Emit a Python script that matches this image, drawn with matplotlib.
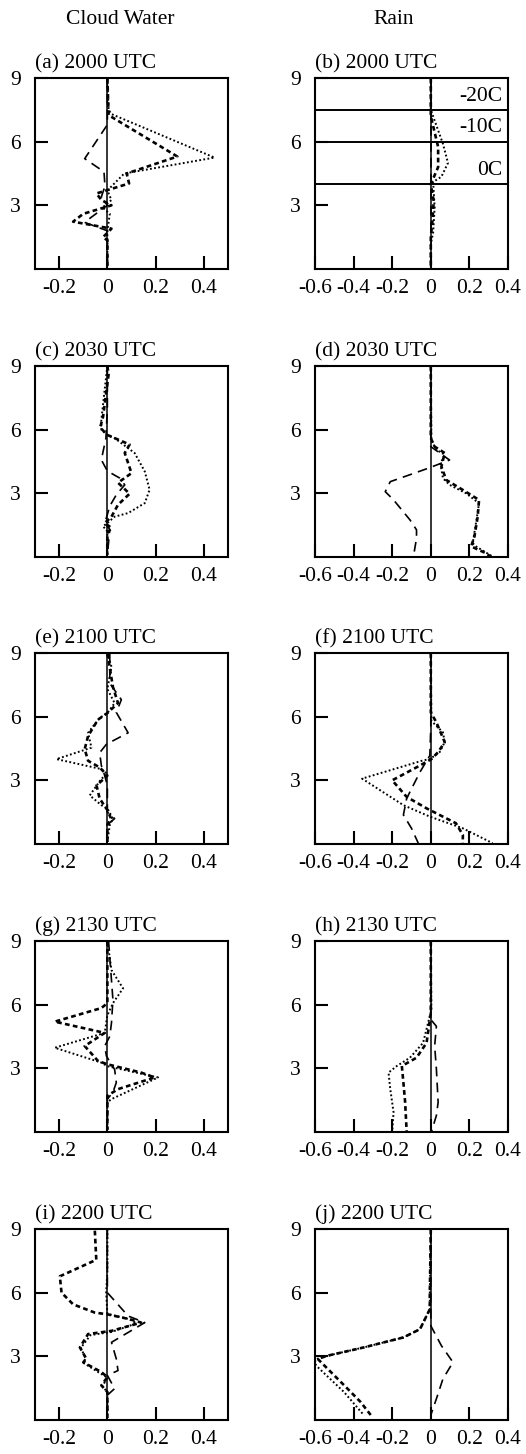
import matplotlib
matplotlib.use("Agg")
import matplotlib.pyplot as plt

plt.rcParams['font.family'] = ['Liberation Serif', 'DejaVu Serif']
plt.rcParams['font.size'] = 15.5
plt.rcParams['axes.unicode_minus'] = False
plt.rcParams['lines.scale_dashes'] = False

# vertical profiles (x = value, z = height in km), three runs per panel
a_long_x = [0, 0, -0.094, -0.014, -0.01, -0.025, 0, -0.095, 0, 0, 0]
a_long_z = [9, 6.8, 5.2, 4.58, 3.9, 3.4, 3.0, 2.2, 1.8, 1.2, 0.1]
a_dot_x = [0, 0.005, 0.017, 0.444, 0.07, 0, 0.017, -0.02, 0.01, 0, 0]
a_dot_z = [9, 7.5, 7.3, 5.25, 4.5, 3.7, 3.25, 2.9, 2.6, 1.8, 0.1]
a_short_x = [0, 0.005, 0.29, 0.08, 0.09, -0.045, -0.025, 0.017, -0.1, -0.142, 0.017, -0.018, 0, 0]
a_short_z = [9, 7.25, 5.3, 4.5, 4.03, 3.56, 3.25, 3.0, 2.6, 2.23, 1.9, 1.5, 1.35, 0.1]

b_long_x = [0, 0]
b_long_z = [9, 0.1]
b_dot_x = [0, 0, 0.063, 0.089, 0.055, 0.012, 0.02, 0.012, 0, 0]
b_dot_z = [9, 7.5, 5.9, 5.0, 4.35, 4.1, 2.9, 1.7, 1.2, 0.1]
b_short_x = [0, 0, 0.038, 0.038, 0, 0.015, 0.009, 0, 0]
b_short_z = [9, 7.2, 5.75, 4.8, 4.0, 3.2, 2.3, 1.5, 0.1]

c_long_x = [0, 0, -0.006, -0.025, 0, 0.051, 0.072, 0.037, 0.01, 0, -0.011, 0.01, 0]
c_long_z = [9, 7, 5.6, 4.58, 4.05, 3.72, 3.4, 2.93, 2.4, 2.0, 1.6, 1.3, 0.1]
c_dot_x = [0, -0.011, -0.025, -0.025, 0, 0.03, 0.113, 0.155, 0.175, 0.155, 0.086, 0.03, 0, -0.018, 0, 0]
c_dot_z = [9, 7.9, 6.46, 6.0, 5.75, 5.6, 4.9, 4.03, 3.17, 2.54, 2.07, 1.9, 1.6, 1.45, 1.2, 0.1]
c_short_x = [0, 0.005, -0.018, -0.03, 0, 0.092, 0.072, 0.1, 0.044, 0.092, 0.044, 0.017, -0.011, 0.017, 0, 0]
c_short_z = [9, 8.6, 6.6, 6.1, 5.75, 5.3, 4.9, 3.95, 3.5, 2.98, 2.46, 1.9, 1.6, 1.37, 1.13, 0.1]

d_long_x = [0, 0, 0.097, -0.014, -0.21, -0.236, -0.193, -0.108, -0.074, -0.074, -0.09]
d_long_z = [9, 5.2, 4.57, 4.18, 3.55, 3.08, 2.69, 1.75, 1.28, 0.88, 0.02]
d_dot_x = [0, 0.003, 0.029, 0.072, 0.05, 0.063, 0.097, 0.183, 0.25, 0.234, 0.217, 0.234, 0.32]
d_dot_z = [9, 5.5, 5.05, 4.82, 4.4, 3.71, 3.4, 3.0, 2.53, 1.6, 0.65, 0.5, 0.02]
d_short_x = [0, 0, 0.02, 0.072, 0.055, 0.08, 0.166, 0.25, 0.243, 0.226, 0.209, 0.285, 0.31]
d_short_z = [9, 5.6, 5.2, 4.9, 4.26, 3.63, 3.16, 2.69, 1.9, 0.96, 0.5, 0.18, 0.02]

e_long_x = [0.01, 0.01, 0.058, 0.037, 0.086, -0.004, -0.032, -0.025, -0.011, 0, 0, 0.03, 0, 0]
e_long_z = [9, 7.57, 6.8, 6.2, 5.24, 4.7, 4.3, 3.7, 3.22, 2.76, 1.5, 1.2, 0.9, 0.1]
e_dot_x = [0, 0.017, 0, 0.03, 0, -0.032, -0.08, -0.066, -0.211, -0.025, 0, -0.025, -0.073, -0.025, 0, 0.023, 0.01, 0]
e_dot_z = [9, 8.35, 7.3, 6.64, 6.17, 5.94, 5.24, 4.54, 4.0, 3.53, 3.3, 3.07, 2.29, 1.83, 1.67, 1.2, 0.9, 0.1]
e_short_x = [0, 0.023, 0.044, 0, -0.039, -0.08, -0.094, -0.08, -0.032, 0, -0.045, -0.032, 0, 0.015, 0, 0]
e_short_z = [9, 7.4, 6.64, 6.17, 5.86, 5.09, 4.47, 3.92, 3.61, 3.22, 2.76, 2.14, 1.6, 1.2, 0.9, 0.1]

f_long_x = [0, 0, -0.005, -0.056, -0.125, -0.142, -0.1, -0.065]
f_long_z = [9, 5.5, 4.17, 3.39, 2.15, 1.37, 0.74, 0.04]
f_dot_x = [0, 0.003, 0.063, 0.072, 0.046, -0.005, -0.04, -0.356, -0.142, -0.005, 0.166, 0.32]
f_dot_z = [9, 5.8, 5.26, 4.8, 4.33, 4.0, 3.94, 3.08, 1.83, 1.29, 0.74, 0.04]
f_short_x = [0, 0, 0.029, 0.072, 0.038, 0.003, -0.056, -0.2, -0.125, -0.022, 0.13, 0.166, 0.166]
f_short_z = [9, 6.2, 5.73, 4.8, 4.33, 4.0, 3.7, 3.0, 2.22, 1.68, 0.98, 0.43, 0.04]

g_long_x = [0.005, 0.023, 0.017, 0.01, -0.011, -0.004, 0.03, 0.037, 0.023, 0, 0]
g_long_z = [9, 6.23, 5.14, 4.51, 4.05, 3.58, 2.95, 2.33, 1.87, 1.55, 0.1]
g_dot_x = [0, 0.017, 0.065, 0.023, 0, -0.011, -0.218, -0.025, 0, 0.21, 0.017, 0, 0]
g_dot_z = [9, 7.63, 6.77, 6.07, 5.5, 4.67, 3.97, 3.27, 3.1, 2.57, 1.55, 1.4, 0.1]
g_short_x = [0, 0, -0.025, -0.218, -0.011, -0.094, -0.039, 0, 0.14, 0.196, 0.044, 0, 0]
g_short_z = [9, 6.07, 5.84, 5.2, 4.67, 4.05, 3.35, 3.19, 2.8, 2.57, 2.02, 1.71, 0.1]

h_long_x = [0, 0, 0.029, 0.02, 0.029, 0.038, 0.029, 0.003]
h_long_z = [9, 5.3, 4.98, 4.05, 2.96, 1.4, 0.78, 0]
h_dot_x = [0, 0.003, -0.04, -0.108, -0.176, -0.219, -0.21, -0.193, -0.2]
h_dot_z = [9, 5.76, 4.2, 3.5, 3.11, 2.8, 2.02, 0.93, 0]
h_short_x = [0, 0, -0.022, -0.074, -0.15, -0.142, -0.133, -0.125]
h_short_z = [9, 5.6, 4.2, 3.5, 3.11, 2.33, 1.4, 0]

i_long_x = [0, 0, 0.037, 0.086, 0.155, 0.017, 0.037, 0.044, 0, 0.03, 0, 0]
i_long_z = [9, 6.0, 5.53, 4.9, 4.59, 3.66, 2.88, 2.33, 2.1, 1.48, 1.17, 0.1]
i_dot_x = [0, 0, -0.005, 0, 0.092, 0.12, 0.017, -0.07, -0.11, -0.09, -0.1, -0.03, 0, -0.02, 0, 0]
i_dot_z = [9, 7, 6, 5.0, 4.75, 4.55, 4.15, 4.0, 3.4, 2.9, 2.7, 2.2, 2.0, 1.6, 1.3, 0.1]
i_short_x = [-0.052, -0.046, -0.197, -0.19, -0.142, -0.052, 0, 0.092, 0.14, 0.017, -0.08, -0.114, -0.087, -0.1, -0.025, 0, -0.025, 0, 0]
i_short_z = [8.92, 7.55, 6.77, 6.0, 5.45, 5.06, 4.98, 4.75, 4.59, 4.2, 4.05, 3.42, 2.88, 2.72, 2.26, 2.02, 1.63, 1.32, 0.1]

j_long_x = [0, 0, 0.055, 0.115, 0.063, 0.029, 0, 0]
j_long_z = [9, 4.44, 3.5, 2.72, 1.94, 1.0, 0.23, 0]
j_dot_x = [0, -0.005, -0.005, -0.056, -0.142, -0.347, -0.535, -0.6, -0.595, -0.45, -0.347]
j_dot_z = [9, 6, 5.22, 4.28, 3.89, 3.42, 3.03, 2.85, 2.57, 1.32, 0.23]
j_short_x = [0, -0.005, -0.005, -0.056, -0.142, -0.347, -0.535, -0.586, -0.432, -0.364, -0.304]
j_short_z = [9, 6, 5.22, 4.28, 3.89, 3.42, 3.03, 2.88, 1.48, 0.85, 0.15]

titles = ['(a) 2000 UTC', '(b) 2000 UTC', '(c) 2030 UTC', '(d) 2030 UTC', '(e) 2100 UTC',
          '(f) 2100 UTC', '(g) 2130 UTC', '(h) 2130 UTC', '(i) 2200 UTC', '(j) 2200 UTC']
profiles = [
    [(a_long_x, a_long_z), (a_dot_x, a_dot_z), (a_short_x, a_short_z)],
    [(b_long_x, b_long_z), (b_dot_x, b_dot_z), (b_short_x, b_short_z)],
    [(c_long_x, c_long_z), (c_dot_x, c_dot_z), (c_short_x, c_short_z)],
    [(d_long_x, d_long_z), (d_dot_x, d_dot_z), (d_short_x, d_short_z)],
    [(e_long_x, e_long_z), (e_dot_x, e_dot_z), (e_short_x, e_short_z)],
    [(f_long_x, f_long_z), (f_dot_x, f_dot_z), (f_short_x, f_short_z)],
    [(g_long_x, g_long_z), (g_dot_x, g_dot_z), (g_short_x, g_short_z)],
    [(h_long_x, h_long_z), (h_dot_x, h_dot_z), (h_short_x, h_short_z)],
    [(i_long_x, i_long_z), (i_dot_x, i_dot_z), (i_short_x, i_short_z)],
    [(j_long_x, j_long_z), (j_dot_x, j_dot_z), (j_short_x, j_short_z)],
]

temp_levels = [4.0, 6.0, 7.5]
temp_labels = ['0C', '-10C', '-20C']

cw_ticks = [-0.2, 0, 0.2, 0.4]
cw_ticklabels = ['-0.2', '0', '0.2', '0.4']
rain_ticks = [-0.6, -0.4, -0.2, 0, 0.2, 0.4]
rain_ticklabels = ['-0.6', '-0.4', '-0.2', '0', '0.2', '0.4']
z_ticks = [3, 6, 9]

line_styles = [dict(lw=1.2, dashes=(7, 4.5)),
               dict(lw=1.4, dashes=(1.3, 1.7)),
               dict(lw=1.9, dashes=(3.4, 2.4))]

W, H = 526, 1454
fig = plt.figure(figsize=(W / 100, H / 100), dpi=100)
row_top = [78, 366, 653, 941, 1229]
col_left = [35, 315]
pw, ph = 193, 191

fig.text(120 / W, 1 - 20 / H, 'Cloud Water', ha='center', va='center',
         family=['Liberation Serif', 'DejaVu Serif'])
fig.text(394 / W, 1 - 20 / H, 'Rain', ha='center', va='center',
         family=['Liberation Serif', 'DejaVu Serif'])

for k in range(10):
    row, col = k // 2, k % 2
    ax = fig.add_axes([col_left[col] / W, 1 - (row_top[row] + ph) / H, pw / W, ph / H])
    ax.axvline(0, color='k', lw=1.1)
    for (x, z), st in zip(profiles[k], line_styles):
        ax.plot(x, z, color='k', **st)
    if col == 0:
        ax.set_xlim(-0.3, 0.5)
        ax.set_xticks(cw_ticks)
        ax.set_xticklabels(cw_ticklabels)
    else:
        ax.set_xlim(-0.6, 0.4)
        ax.set_xticks(rain_ticks)
        ax.set_xticklabels(rain_ticklabels)
    ax.set_ylim(0, 9)
    ax.set_yticks(z_ticks)
    ax.tick_params(direction='in', length=9.5, width=1.5, pad=7)
    ax.tick_params(axis='y', pad=10)
    for s in ax.spines.values():
        s.set_linewidth(1.5)
    ax.set_title(titles[k], loc='left', pad=7, fontsize=15.5)
    if k == 1:
        for lev, lab in zip(temp_levels, temp_labels):
            ax.axhline(lev, color='k', lw=1.4)
            ax.text(0.37, lev + 0.2, lab, ha='right', va='bottom')

fig.savefig('out.png', dpi=100)
